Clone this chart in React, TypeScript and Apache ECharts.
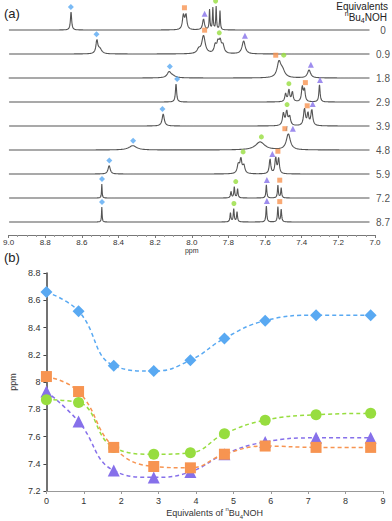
import React, { useEffect, useRef } from 'react';
import * as echarts from 'echarts';

// ---------- data ----------
const equivLabels = ['0', '0.9', '1.8', '2.9', '3.9', '4.8', '5.9', '7.2', '8.7'];
const equivValues = [0, 0.86, 1.8, 2.87, 3.85, 4.76, 5.85, 7.21, 8.67];
const blueDiamond = [8.66, 8.52, 8.12, 8.08, 8.16, 8.32, 8.45, 8.49, 8.49];
const orangeSquare = [8.04, 7.93, 7.52, 7.38, 7.37, 7.47, 7.53, 7.52, 7.52];
const greenCircle = [7.87, 7.85, 7.52, 7.47, 7.48, 7.62, 7.72, 7.76, 7.77];
const purpleTriangle = [7.93, 7.71, 7.35, 7.30, 7.34, 7.47, 7.56, 7.59, 7.59];

// NMR peaks: [ppm, height, half-width]
const peaks0 = [[8.659, 18, 0.004], [8.046, 14, 0.006], [8.032, 15, 0.006], [7.936, 11, 0.006], [7.903, 20, 0.0025], [7.885, 22, 0.0025], [7.867, 23, 0.0025], [7.846, 19, 0.0025]];
const peaks1 = [[8.518, 13, 0.006], [8.502, 5, 0.012], [7.962, 4, 0.01], [7.936, 18, 0.011], [7.872, 8, 0.007], [7.857, 10, 0.007], [7.845, 11, 0.007], [7.830, 8, 0.008], [7.717, 13, 0.01]];
const peaks2 = [[8.124, 5.5, 0.012], [8.105, 2, 0.02], [7.524, 15, 0.012], [7.505, 7, 0.015], [7.360, 8, 0.01]];
const peaks3 = [[8.086, 18, 0.004], [7.488, 8, 0.005], [7.470, 12, 0.005], [7.451, 10, 0.005], [7.397, 15, 0.005], [7.385, 12, 0.005], [7.303, 17, 0.004]];
const peaks4 = [[8.156, 12, 0.007], [7.500, 12, 0.006], [7.482, 14, 0.006], [7.466, 9, 0.006], [7.385, 17, 0.006], [7.366, 12, 0.005], [7.345, 16, 0.006]];
const peaks5 = [[8.322, 4.3, 0.025], [7.627, 8, 0.03], [7.473, 16, 0.013]];
const peaks6 = [[8.451, 8.5, 0.007], [7.746, 9, 0.007], [7.732, 14, 0.006], [7.716, 8, 0.007], [7.573, 15, 0.005], [7.542, 16, 0.005], [7.526, 15, 0.005]];
const peaks7 = [[8.491, 14, 0.002], [7.786, 7, 0.003], [7.768, 11, 0.003], [7.750, 9, 0.003], [7.593, 13, 0.003], [7.530, 12.5, 0.003], [7.512, 10, 0.003]];
const peaks8 = [[8.491, 15, 0.002], [7.789, 9, 0.003], [7.771, 13, 0.003], [7.753, 10, 0.003], [7.593, 16, 0.003], [7.530, 15, 0.003], [7.512, 12.5, 0.003]];
const spectraPeaks = [peaks0, peaks1, peaks2, peaks3, peaks4, peaks5, peaks6, peaks7, peaks8];

// ---------- helpers ----------
const FONT = '"Liberation Sans", Arial, Helvetica, sans-serif';
const C_BLUE = '#59a9f2';
const C_ORANGE = '#f79451';
const C_GREEN = '#97dd3f';
const C_PURPLE = '#8670ea';
const LINE_C = '#555555';

const intensity = (peaks: number[][], x: number) => {
  let s = 0;
  for (const [p, h, w] of peaks) {
    const d = (x - p) / w;
    s += h / (1 + d * d);
  }
  return s;
};
const localMax = (peaks: number[][], x: number) => {
  let m = 0;
  for (let k = -12; k <= 12; k++) m = Math.max(m, intensity(peaks, x + k * 0.001));
  return m;
};
const baseOf = (i: number) => 205 - 24 * i;

export default function App() {
  const ref = useRef<HTMLDivElement>(null);
  useEffect(() => {
    document.body.style.margin = '0';
    const chart = echarts.init(ref.current!, undefined, { renderer: 'svg' });

    const spectraSeries: any[] = spectraPeaks.map((pk, i) => {
      const data: number[][] = [];
      for (let n = 0; n <= 1970; n++) {
        const x = 7.03 + n * 0.001;
        data.push([x, baseOf(i) + intensity(pk, x)]);
      }
      return {
        type: 'line', xAxisIndex: 0, yAxisIndex: 0, data, showSymbol: false, silent: true,
        lineStyle: { color: LINE_C, width: 1.1 }, z: 2,
      };
    });

    const markerData = (vals: number[], offsets: Record<number, number>, extra?: Record<number, any>) =>
      vals.map((v, i) => {
        const item: any = {
          value: [v, baseOf(i) + localMax(spectraPeaks[i], v) + 5],
          symbolOffset: [offsets[i] || 0, 0],
        };
        if (extra && extra[i]) Object.assign(item, extra[i]);
        return item;
      });

    const mk = (name: string, vals: number[], symbol: string, color: string, size: number, offsets: Record<number, number>, extra?: Record<number, any>) => ({
      type: 'scatter', name, xAxisIndex: 0, yAxisIndex: 0, symbol, symbolSize: size,
      itemStyle: { color }, data: markerData(vals, offsets, extra), z: 5, silent: true,
    });

    const slash = { 5: { label: { show: true, formatter: '/', position: 'right', distance: 0, offset: [-2, 0], color: '#666', fontSize: 7, fontFamily: FONT } } };

    const aMarkers = [
      mk('a-blue', blueDiamond, 'diamond', C_BLUE, 6, {}),
      mk('a-orange', orangeSquare, 'rect', C_ORANGE, 5, { 2: -4, 5: -4 }, slash),
      mk('a-green', greenCircle, 'circle', C_GREEN, 5, { 2: 4 }),
      mk('a-purple', purpleTriangle, 'triangle', C_PURPLE, 6, { 5: 4 }),
    ];

    const eqLabelSeries = {
      type: 'scatter', xAxisIndex: 0, yAxisIndex: 0, symbolSize: 1, silent: true,
      itemStyle: { color: 'rgba(0,0,0,0)' },
      data: equivLabels.map((l, i) => ({ value: [7.0, baseOf(i)], name: l })),
      label: {
        show: true, formatter: (p: any) => p.name, position: 'inside', offset: [8, 0],
        align: 'center', verticalAlign: 'middle', color: '#222', fontSize: 10, fontFamily: FONT,
      },
    };

    const pairs = (vals: number[]) => vals.map((v, i) => [equivValues[i], v]);
    const bLine = (name: string, vals: number[], symbol: string, color: string, size: number, z: number) => ({
      type: 'line', name, xAxisIndex: 1, yAxisIndex: 1, data: pairs(vals), smooth: 0.45,
      symbol, symbolSize: size, showSymbol: true, showAllSymbol: true,
      itemStyle: { color, opacity: 1 }, lineStyle: { color, width: 1.5, type: [4, 3] }, z, silent: true,
    });

    const option: any = {
      animation: false,
      textStyle: { fontFamily: FONT },
      grid: [
        { left: 6, right: 17, top: 0, height: 235 },
        { left: 31, right: 9, top: 273, bottom: 30 },
      ],
      xAxis: [
        {
          type: 'value', gridIndex: 0, min: 7, max: 9, interval: 0.2, inverse: true,
          name: 'ppm', nameLocation: 'middle', nameGap: 12,
          nameTextStyle: { fontSize: 7, color: '#333', fontFamily: FONT },
          axisLine: { lineStyle: { color: '#777', width: 1 } },
          axisTick: { show: true, length: 3, lineStyle: { color: '#777' } },
          minorTick: { show: true, splitNumber: 4, length: 2, lineStyle: { color: '#999' } },
          axisLabel: { fontSize: 8, color: '#333', margin: 3, formatter: (v: number) => v.toFixed(1), fontFamily: FONT },
          splitLine: { show: false },
        },
        {
          type: 'value', gridIndex: 1, min: 0, max: 9, interval: 1,
          name: '{b|Equivalents of }{sup|n}{b|Bu}{sub|4}{b|NOH}', nameLocation: 'middle', nameGap: 13,
          nameTextStyle: {
            rich: {
              b: { fontSize: 9, color: '#333', fontFamily: FONT, lineHeight: 14, verticalAlign: 'middle' },
              sup: { fontSize: 6, color: '#333', fontFamily: FONT, lineHeight: 14, verticalAlign: 'top' },
              sub: { fontSize: 6, color: '#333', fontFamily: FONT, lineHeight: 14, verticalAlign: 'bottom' },
            },
          },
          axisLine: { onZero: false, lineStyle: { color: '#999', width: 1 } },
          axisTick: { show: true, length: 3, lineStyle: { color: '#999' } },
          axisLabel: { fontSize: 9, color: '#333', margin: 5, fontFamily: FONT },
          splitLine: { show: false },
        },
      ],
      yAxis: [
        { type: 'value', gridIndex: 0, min: 0, max: 235, show: false },
        {
          type: 'value', gridIndex: 1, min: 7.2, max: 8.8, interval: 0.2,
          name: 'ppm', nameLocation: 'middle', nameGap: 20,
          nameTextStyle: { fontSize: 9, color: '#333', fontFamily: FONT },
          axisLine: { show: true, onZero: false, lineStyle: { color: '#444', width: 1.5 } },
          axisTick: { show: true, length: 3, lineStyle: { color: '#444' } },
          axisLabel: { fontSize: 9, color: '#333', margin: 6, fontFamily: FONT },
          splitLine: { show: false },
        },
      ],
      graphic: [
        { type: 'text', left: 4, top: 7, style: { text: '(a)', fontSize: 13, fill: '#222', fontFamily: FONT } },
        { type: 'text', left: 4, top: 251, style: { text: '(b)', fontSize: 13, fill: '#222', fontFamily: FONT } },
        { type: 'text', right: 4, top: 1, style: { text: 'Equivalents', fontSize: 10, fill: '#222', fontFamily: FONT } },
        {
          type: 'text', right: 5, top: 10,
          style: {
            text: '{sup|n}{b|Bu}{sub|4}{b|NOH}',
            rich: {
              b: { fontSize: 10, fill: '#222', fontFamily: FONT, lineHeight: 14, verticalAlign: 'middle' },
              sup: { fontSize: 7, fill: '#222', fontFamily: FONT, lineHeight: 14, verticalAlign: 'top' },
              sub: { fontSize: 7, fill: '#222', fontFamily: FONT, lineHeight: 14, verticalAlign: 'bottom' },
            },
          },
        },
      ],
      series: [
        ...spectraSeries,
        ...aMarkers,
        eqLabelSeries,
        bLine('blue', blueDiamond, 'diamond', C_BLUE, 12, 10),
        bLine('purple', purpleTriangle, 'triangle', C_PURPLE, 12, 11),
        bLine('green', greenCircle, 'circle', C_GREEN, 11, 12),
        bLine('orange', orangeSquare, 'rect', C_ORANGE, 11, 13),
      ],
    };
    chart.setOption(option);
    return () => chart.dispose();
  }, []);
  return <div ref={ref} style={{ width: 392, height: 521 }} />;
}
